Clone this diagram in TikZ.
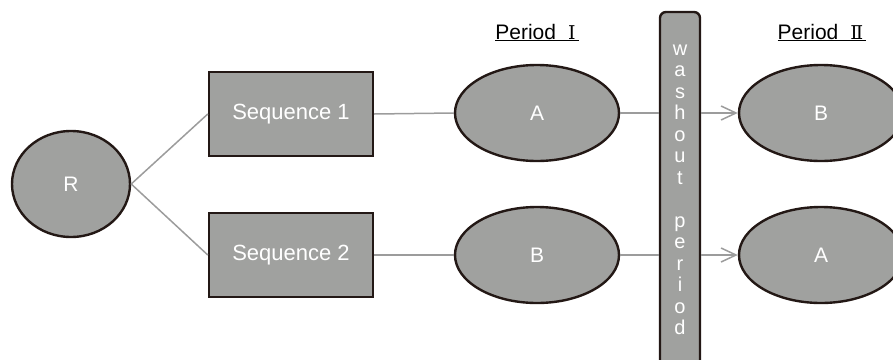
\documentclass[tikz,border=0pt]{standalone}
\usepackage{fontspec}
\setmainfont{Liberation Sans}
\newfontfamily\numfont{DejaVu Serif}
\usetikzlibrary{arrows.meta,shapes.geometric}
\definecolor{shapefill}{HTML}{A0A19F}
\definecolor{shapeedge}{HTML}{231815}
\definecolor{wirecol}{HTML}{9C9C9C}
\begin{document}
\begin{tikzpicture}[x=1pt,y=-1pt,
  shapebase/.style={draw=shapeedge, line width=2.4pt, fill=shapefill, text=white, inner sep=0pt},
  seqbox/.style={shapebase, rectangle, minimum width=164pt, minimum height=84pt,
    font=\fontsize{22}{26}\selectfont},
  armoval/.style={shapebase, ellipse, minimum width=164pt, minimum height=96pt,
    font=\fontsize{21}{25}\selectfont},
  randnode/.style={shapebase, ellipse, minimum width=118pt, minimum height=106pt,
    font=\fontsize{21}{25}\selectfont},
  washbar/.style={shapebase, rectangle, rounded corners=6pt, minimum width=40pt, minimum height=380pt},
  periodlabel/.style={anchor=base, inner sep=0pt, font=\fontsize{21}{24}\selectfont},
  wire/.style={draw=wirecol, line width=1.5pt},
  wirearrow/.style={wire, -{Straight Barb[length=15pt,width=14pt,line width=1.5pt]}}
]
\useasboundingbox (0,0) rectangle (893,359);
\clip (0,0) rectangle (893,359);

% randomisation and the two sequences
\node[randnode] (R) at (71,184) {R};
\node[seqbox] (s1) at (291,114) {Sequence 1};
\node[seqbox] (s2) at (291,255) {Sequence 2};

% period I treatments
\node[armoval] (p1a) at (537,113) {A};
\node[armoval] (p1b) at (537,255) {B};

% washout bar
\node[washbar] (bar) at (680,202) {};
\node[inner sep=0pt, text=white, align=center, font=\fontsize{20}{21.5}\selectfont]
  (wtext) at (680,190) {w\\a\\s\\h\\o\\u\\t\\[21.5pt]p\\e\\r\\i\\o\\d};

% period II treatments
\node[armoval] (p2b) at (821,113) {B};
\node[armoval] (p2a) at (821,255) {A};

% period headings
\node[periodlabel] (h1) at (537,39) {\underline{Period\hspace{12pt}{\numfont\fontsize{19}{24}\selectfont Ⅰ}\hspace{3pt}}};
\node[periodlabel] (h2) at (822,39) {\underline{Period\hspace{12pt}{\numfont\fontsize{19}{24}\selectfont Ⅱ}\hspace{3pt}}};

% connectors
\draw[wire] (R.east) -- (s1.west);
\draw[wire] (R.east) -- (s2.west);
\draw[wire] (s1.east) -- (p1a.west);
\draw[wire] (s2.east) -- (p1b.west);
\draw[wire] (p1a.east) -- (p1a.east -| bar.west);
\draw[wire] (p1b.east) -- (p1b.east -| bar.west);
\draw[wirearrow] (p2b.west -| bar.east) -- (p2b.west);
\draw[wirearrow] (p2a.west -| bar.east) -- (p2a.west);
\end{tikzpicture}
\end{document}
